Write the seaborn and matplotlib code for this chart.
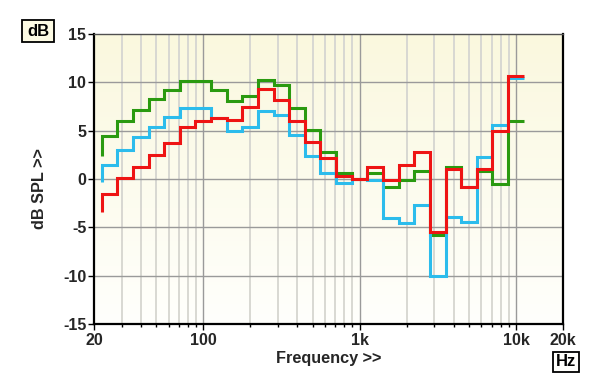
import numpy as np
import pandas as pd
import matplotlib
matplotlib.use("Agg")
import matplotlib.pyplot as plt
import matplotlib.ticker as mticker
from matplotlib.patches import Rectangle
import seaborn as sns

# 1/3-octave band edges (Hz)
band_edges = [22.4, 28.2, 35.5, 44.7, 56.2, 70.8, 89.1, 112, 141, 178, 224, 282, 355,
              447, 562, 708, 891, 1122, 1413, 1778, 2239, 2818, 3548, 4467, 5623, 7079,
              8913, 11220]

# band levels (dB), one per band (25 Hz ... 10 kHz)
green_start = 2.4
green = [4.4, 6.0, 7.1, 8.3, 9.2, 10.1, 10.1, 9.2, 8.1, 8.6, 10.2, 9.7, 7.3, 5.1, 2.8,
         0.6, 0.0, 0.6, -0.8, -0.1, 0.8, -5.8, 1.2, -0.8, 0.8, -0.5, 6.0]
cyan_start = -0.3
cyan = [1.5, 3.0, 4.3, 5.4, 6.4, 7.3, 7.3, 6.3, 5.0, 5.4, 7.0, 6.6, 4.6, 2.4, 0.6,
        -0.4, 0.0, -0.1, -4.0, -4.6, -2.7, -10.0, -3.9, -4.4, 2.3, 5.6, 10.5]
red_start = -3.4
red = [-1.5, 0.1, 1.2, 2.5, 3.7, 5.4, 6.0, 6.3, 6.1, 7.4, 9.3, 8.2, 6.0, 3.8, 2.2,
       0.3, 0.0, 1.2, -0.1, 1.5, 2.8, -5.5, 1.0, -0.8, 1.0, 5.0, 10.7]

x_tick_vals = [20, 100, 1000, 10000, 20000]
x_tick_labels = ["20", "100", "1k", "10k", "20k"]
y_ticks = [-15, -10, -5, 0, 5, 10, 15]

series = {"green": (green_start, green), "cyan": (cyan_start, cyan), "red": (red_start, red)}
rows = []
for name, (start, vals) in series.items():
    xs = [band_edges[0]] + list(band_edges)
    ys = [start] + list(vals) + [vals[-1]]
    for xv, yv in zip(xs, ys):
        rows.append({"freq": xv, "level": yv, "series": name})
df = pd.DataFrame(rows)

sns.set_theme(style="white")
plt.rcParams["font.family"] = ["Liberation Sans", "DejaVu Sans"]
plt.rcParams["font.weight"] = "bold"

W, H = 600, 387
fig = plt.figure(figsize=(6, 3.87), dpi=100)
fig.patch.set_facecolor("white")
l, r, t, b = 94 / W, 563 / W, 34 / H, 324 / H
pos = [l, 1 - b, r - l, b - t]

# gradient background
bg = fig.add_axes(pos, zorder=0)
grad = np.linspace(0, 1, 256).reshape(-1, 1)
top_c = np.array([250, 248, 222]) / 255
bot_c = np.array([255, 255, 252]) / 255
img = top_c[None, None, :] * (1 - grad[:, :, None]) + bot_c[None, None, :] * grad[:, :, None]
bg.imshow(img, aspect="auto", extent=[0, 1, 0, 1])
bg.set_axis_off()

ax = fig.add_axes(pos, zorder=1)
ax.set_facecolor("none")
ax.set_xscale("log")

palette = {"green": "#2a9a10", "cyan": "#2cbcec", "red": "#ee1414"}
sns.lineplot(data=df, x="freq", y="level", hue="series", hue_order=["green", "cyan", "red"],
             palette=palette, estimator=None, sort=False, drawstyle="steps-post",
             linewidth=2.2, legend=False, ax=ax, solid_joinstyle="miter", solid_capstyle="butt")

ax.set_xlim(20, 20000)
ax.set_ylim(-15, 15)

ax.xaxis.set_major_locator(mticker.FixedLocator(x_tick_vals))
ax.xaxis.set_major_formatter(mticker.FixedFormatter(x_tick_labels))
ax.xaxis.set_minor_locator(mticker.LogLocator(base=10, subs=range(2, 10), numticks=20))
ax.xaxis.set_minor_formatter(mticker.NullFormatter())
ax.set_yticks(y_ticks)
ax.set_yticklabels([str(v) for v in y_ticks])

ax.grid(False)
for xv in [100, 1000, 10000]:
    ax.axvline(xv, color="#9a9a9a", lw=1.0, zorder=0.5)
for dec in [10, 100, 1000, 10000]:
    for s in range(2, 10):
        xv = dec * s
        if 20 < xv < 20000:
            ax.axvline(xv, color="#d8d8d2", lw=1.4, zorder=0.4)
for yv in y_ticks[1:-1]:
    ax.axhline(yv, color="#9a9a9a", lw=1.0, zorder=0.5)

ax.tick_params(axis="both", which="major", direction="out", length=4, width=1,
               color="black", labelsize=11.5, pad=1.5, bottom=True, left=True)
ax.tick_params(axis="x", which="minor", direction="out", length=2.5, width=1,
               color="black", bottom=True)
ax.tick_params(axis="x", which="major", pad=2.5)
for lab in ax.get_xticklabels() + ax.get_yticklabels():
    lab.set_fontweight("bold")

for side in ["left", "bottom", "right"]:
    ax.spines[side].set_color("black")
    ax.spines[side].set_linewidth(1.6)
    ax.spines[side].set_visible(True)
ax.spines["top"].set_color("#505050")
ax.spines["top"].set_linewidth(1.0)
ax.spines["top"].set_visible(True)

ax.set_xlabel("Frequency >>", fontsize=11.7, fontweight="bold")
ax.set_ylabel("dB SPL >>", fontsize=11.7, fontweight="bold")
ax.xaxis.set_label_coords(0.5, -0.093)
ax.yaxis.set_label_coords(-0.1, 0.466)

def unit_box(x0, y0, x1, y1, text, face):
    fig.add_artist(Rectangle((x0 / W, 1 - y1 / H), (x1 - x0) / W, (y1 - y0) / H,
                             transform=fig.transFigure, facecolor=face, edgecolor="black",
                             linewidth=1.3, zorder=3))
    fig.text((x0 + x1) / 2 / W, 1 - (y0 + y1) / 2 / H, text, ha="center", va="center",
             fontsize=12, fontweight="bold", color="black", zorder=4)

unit_box(22, 20, 54, 42, "dB", "#fdfbe4")
unit_box(553, 352, 579, 372, "Hz", "#fffffc")

fig.savefig("out.png", dpi=100)
